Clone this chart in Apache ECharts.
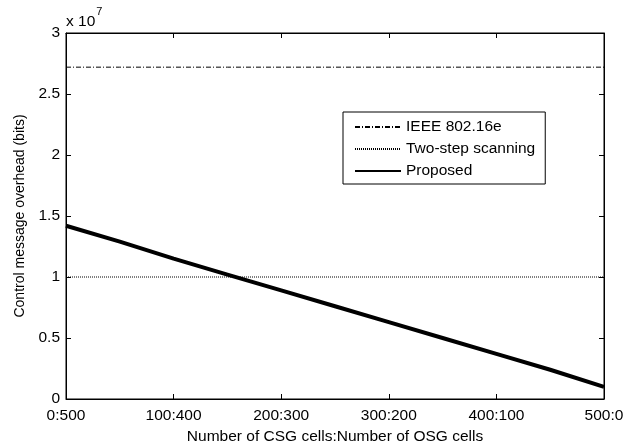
<!DOCTYPE html>
<html>
<head>
<meta charset="utf-8">
<script src="https://cdn.jsdelivr.net/npm/echarts@6/dist/echarts.min.js"></script>
<style>html,body{margin:0;padding:0;background:#fff}#c{width:633px;height:441px}</style>
</head>
<body>
<div id="c"></div>
<script>
var xValues = [0, 50, 100, 150, 200, 250, 300, 350, 400, 450, 500];
var xTickLabels = ['0:500', '100:400', '200:300', '300:200', '400:100', '500:0'];
var ieee = [2.72, 2.72, 2.72, 2.72, 2.72, 2.72, 2.72, 2.72, 2.72, 2.72, 2.72];
var twoStep = [1.0, 1.0, 1.0, 1.0, 1.0, 1.0, 1.0, 1.0, 1.0, 1.0, 1.0];
var proposed = [1.42, 1.29, 1.15, 1.02, 0.89, 0.76, 0.63, 0.50, 0.37, 0.24, 0.10];
var seriesNames = ['IEEE 802.16e', 'Two-step scanning', 'Proposed'];
var yTitle = 'Control message overhead (bits)';
var xTitle = 'Number of CSG cells:Number of OSG cells';

function pairs(v) { return xValues.map(function (x, i) { return [x, v[i]]; }); }

var FONT = '"Liberation Sans", Arial, sans-serif';
var FS = 15.5;
var chart = echarts.init(document.getElementById('c'));
function axisCommon() {
  return {
    show: true,
    axisLine: { show: true, onZero: false, lineStyle: { color: '#000', width: 1 } },
    axisTick: { show: true, inside: true, length: 5, lineStyle: { color: '#000' } },
    splitLine: { show: false }
  };
}
chart.setOption({
  animation: false,
  backgroundColor: '#fff',
  textStyle: { fontFamily: FONT },
  grid: { left: 66, right: 29, top: 33, bottom: 42, show: true, borderColor: '#000', borderWidth: 1,
    containLabel: false, outerBoundsMode: 'none' },
  graphic: [{
    type: 'text', left: 66, top: 6,
    style: {
      text: '{a|x 10}{b|7}',
      rich: {
        a: { fontSize: FS, fontFamily: FONT, fill: '#000', padding: [8, 0, 0, 0] },
        b: { fontSize: 11, fontFamily: FONT, fill: '#000', verticalAlign: 'top', padding: [0, 0, 10, 1] }
      }
    }
  }],
  legend: {
    orient: 'vertical', left: 343, top: 112,
    padding: [7, 10, 5, 11],
    itemWidth: 46, itemHeight: 14, itemGap: 6, itemTextGap: 7,
    backgroundColor: '#fff', borderColor: '#000', borderWidth: 1, borderRadius: 0,
    itemStyle: { opacity: 0 },
    textStyle: { fontSize: FS, color: '#000', fontFamily: FONT },
    data: seriesNames
  },
  xAxis: [
    Object.assign(axisCommon(), {
      type: 'value', min: 0, max: 500, interval: 100, position: 'bottom',
      name: xTitle, nameLocation: 'middle', nameGap: 27,
      nameTextStyle: { fontSize: FS, color: '#000', fontFamily: FONT },
      axisLabel: { fontSize: FS, color: '#000', margin: 9, fontFamily: FONT,
        formatter: function (v) { return xTickLabels[Math.round(v / 100)]; } }
    }),
    Object.assign(axisCommon(), {
      type: 'value', min: 0, max: 500, interval: 100, position: 'top',
      axisLabel: { show: false }
    })
  ],
  yAxis: [
    Object.assign(axisCommon(), {
      type: 'value', min: 0, max: 3, interval: 0.5, position: 'left',
      name: yTitle, nameLocation: 'middle', nameGap: 38,
      nameTextStyle: { fontSize: 14, color: '#000', fontFamily: FONT },
      axisLabel: { fontSize: FS, color: '#000', margin: 6, fontFamily: FONT }
    }),
    Object.assign(axisCommon(), {
      type: 'value', min: 0, max: 3, interval: 0.5, position: 'right',
      axisLabel: { show: false }
    })
  ],
  series: [
    { name: seriesNames[0], type: 'line', data: pairs(ieee), showSymbol: false, symbol: 'none',
      lineStyle: { color: '#000', width: 1, type: [5, 2, 1, 2] }, itemStyle: { color: '#000' } },
    { name: seriesNames[1], type: 'line', data: pairs(twoStep), showSymbol: false, symbol: 'none',
      lineStyle: { color: '#000', width: 1, type: [1, 1] }, itemStyle: { color: '#000' } },
    { name: seriesNames[2], type: 'line', data: pairs(proposed), showSymbol: false, symbol: 'none',
      lineStyle: { color: '#000', width: 4 }, itemStyle: { color: '#000' } }
  ]
});
</script>
</body>
</html>
